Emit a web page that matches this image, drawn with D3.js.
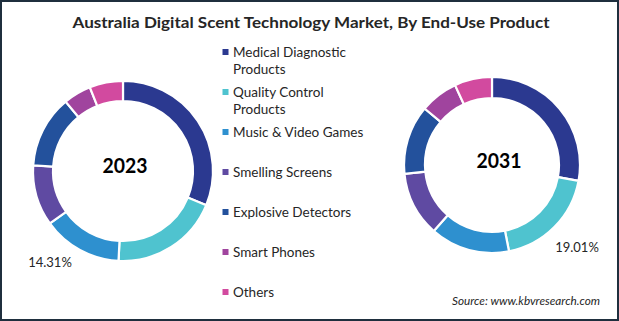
<!DOCTYPE html>
<html><head><meta charset="utf-8">
<script src="https://cdn.jsdelivr.net/npm/d3@7"></script>
<style>html,body{margin:0;padding:0;background:#fff;}svg{display:block;}</style>
</head><body>
<script>
const categories = ["Medical Diagnostic Products", "Quality Control Products", "Music & Video Games", "Smelling Screens", "Explosive Detectors", "Smart Phones", "Others"];
const legendLines = [["Medical Diagnostic", "Products"], ["Quality Control", "Products"], ["Music & Video Games"], ["Smelling Screens"], ["Explosive Detectors"], ["Smart Phones"], ["Others"]];
const values2023 = [31.2, 19.6, 14.31, 10.9, 13.0, 5.0, 6.0];
const values2031 = [27.9, 19.01, 14.6, 11.9, 12.7, 7.0, 6.9];
const colors = ["#2b3990", "#4fc3cf", "#2e90cf", "#5f4aa2", "#23519c", "#a0449e", "#d24a9f"];
const years = ["2023", "2031"];
const highlight = [{year: "2023", idx: 2, text: "14.31%"}, {year: "2031", idx: 1, text: "19.01%"}];

const W = 619, H = 321;
const svg = d3.select("body").append("svg").attr("width", W).attr("height", H);
svg.append("rect").attr("x", 1).attr("y", 1).attr("width", W - 2).attr("height", H - 2)
  .attr("fill", "#fff").attr("stroke", "#1f2f3e").attr("stroke-width", 2);

svg.append("text").attr("x", 311).attr("y", 28).attr("text-anchor", "middle")
  .attr("font-family", "Lato, 'Open Sans', sans-serif").attr("font-weight", "bold").attr("font-size", 15.5)
  .attr("fill", "#262626").attr("textLength", 477).attr("lengthAdjust", "spacingAndGlyphs")
  .text("Australia Digital Scent Technology Market, By End-Use Product");

const color = d3.scaleOrdinal().domain(categories).range(colors);
const pie = d3.pie().sort(null).value(d => d.v);

const donuts = [
  {year: "2023", values: values2023, cx: 123, cy: 171, ro: 90, ri: 70, tx: 125, ty: 173, lx: 50, ly: 267},
  {year: "2031", values: values2031, cx: 492, cy: 165, ro: 88, ri: 67, tx: 499, ty: 168, lx: 577, ly: 252}
];

donuts.forEach(dn => {
  const g = svg.append("g").attr("transform", `translate(${dn.cx},${dn.cy})`);
  const arc = d3.arc().innerRadius(dn.ri).outerRadius(dn.ro);
  const data = categories.map((c, i) => ({c, v: dn.values[i]}));
  g.selectAll("path").data(pie(data)).join("path")
    .attr("d", arc).attr("fill", d => color(d.data.c))
    .attr("stroke", "#fff").attr("stroke-width", 2.2);
  svg.append("text").attr("x", dn.tx).attr("y", dn.ty).attr("text-anchor", "middle")
    .attr("font-family", "Lato, 'Open Sans', sans-serif").attr("font-weight", "bold").attr("font-size", 21)
    .attr("fill", "#000").attr("textLength", 45).attr("lengthAdjust", "spacingAndGlyphs").text(dn.year);
  const h = highlight.find(x => x.year === dn.year);
  svg.append("text").attr("x", dn.lx).attr("y", dn.ly).attr("text-anchor", "middle")
    .attr("font-family", "Lato, 'Open Sans', sans-serif").attr("font-size", 13)
    .attr("fill", "#262626").text(h.text);
});

const rowY = [57, 97, 137, 177, 217, 257, 297];
const lg = svg.append("g");
categories.forEach((c, i) => {
  lg.append("rect").attr("x", 222.5).attr("y", rowY[i] - 8).attr("width", 6).attr("height", 6).attr("fill", color(c));
  legendLines[i].forEach((ln, j) => {
    lg.append("text").attr("x", 233).attr("y", rowY[i] + j * 17)
      .attr("font-family", "Lato, 'Open Sans', sans-serif").attr("font-size", 13.5)
      .attr("fill", "#262626").text(ln);
  });
});

svg.append("text").attr("x", 600).attr("y", 305).attr("text-anchor", "end")
  .attr("font-family", "Lato, 'Open Sans', sans-serif").attr("font-style", "italic").attr("font-size", 11.5)
  .attr("fill", "#262626").attr("textLength", 148).attr("lengthAdjust", "spacingAndGlyphs")
  .text("Source: www.kbvresearch.com");
</script>
</body></html>
